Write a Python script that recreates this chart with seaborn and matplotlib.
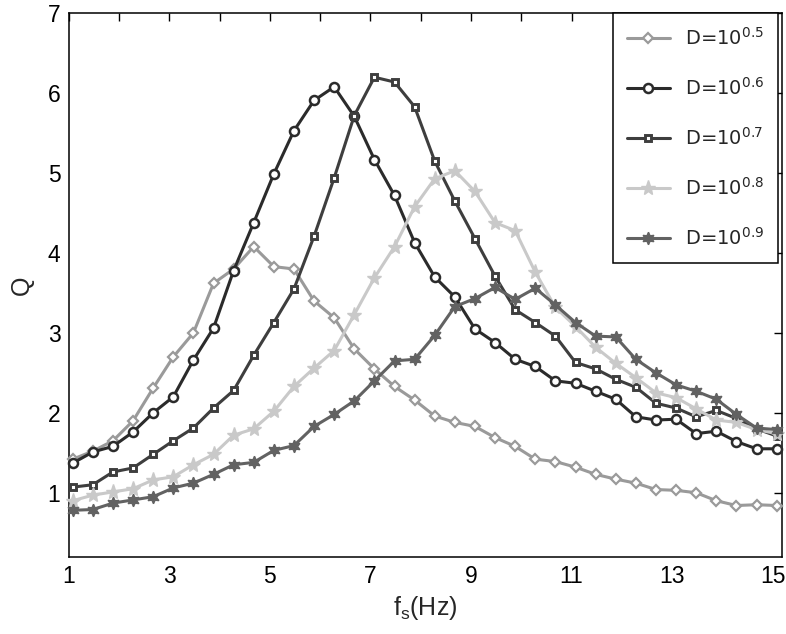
import matplotlib
matplotlib.use('Agg')
import matplotlib.pyplot as plt
import seaborn as sns

# frequency values (Hz)
fs = [1.08, 1.48, 1.88, 2.28, 2.68, 3.08, 3.48, 3.88, 4.28, 4.68, 5.08, 5.48,
      5.88, 6.28, 6.68, 7.08, 7.48, 7.88, 8.28, 8.68, 9.08, 9.48, 9.88, 10.28,
      10.68, 11.08, 11.48, 11.88, 12.28, 12.68, 13.08, 13.48, 13.88, 14.28, 14.68, 15.08]

q_05 = [1.42, 1.52, 1.65, 1.90, 2.31, 2.70, 3.00, 3.62, 3.80, 4.08, 3.83, 3.80,
        3.40, 3.19, 2.80, 2.55, 2.33, 2.16, 1.96, 1.88, 1.83, 1.69, 1.58, 1.42,
        1.39, 1.32, 1.23, 1.17, 1.12, 1.04, 1.03, 1.00, 0.90, 0.84, 0.85, 0.84]
q_06 = [1.37, 1.51, 1.58, 1.76, 2.00, 2.20, 2.66, 3.06, 3.78, 4.38, 4.99, 5.53,
        5.91, 6.08, 5.71, 5.17, 4.72, 4.13, 3.70, 3.45, 3.05, 2.88, 2.67, 2.58,
        2.40, 2.37, 2.27, 2.17, 1.95, 1.91, 1.92, 1.74, 1.77, 1.64, 1.55, 1.55]
q_07 = [1.07, 1.10, 1.26, 1.31, 1.48, 1.65, 1.81, 2.06, 2.28, 2.72, 3.13, 3.55,
        4.21, 4.94, 5.72, 6.20, 6.14, 5.83, 5.15, 4.65, 4.18, 3.71, 3.29, 3.13,
        2.96, 2.63, 2.55, 2.42, 2.32, 2.12, 2.06, 1.95, 2.03, 1.93, 1.80, 1.71]
q_08 = [0.90, 0.97, 1.01, 1.05, 1.16, 1.20, 1.35, 1.48, 1.72, 1.80, 2.02, 2.33,
        2.56, 2.78, 3.23, 3.69, 4.08, 4.58, 4.93, 5.03, 4.77, 4.38, 4.28, 3.76,
        3.32, 3.08, 2.82, 2.62, 2.44, 2.25, 2.19, 2.05, 1.91, 1.88, 1.79, 1.74]
q_09 = [0.78, 0.79, 0.87, 0.91, 0.95, 1.06, 1.12, 1.23, 1.35, 1.38, 1.53, 1.59,
        1.83, 1.98, 2.15, 2.40, 2.65, 2.67, 2.97, 3.33, 3.43, 3.57, 3.42, 3.56,
        3.35, 3.13, 2.96, 2.95, 2.67, 2.50, 2.35, 2.27, 2.17, 1.98, 1.81, 1.79]

labels = [r'D=10$^{0.5}$', r'D=10$^{0.6}$', r'D=10$^{0.7}$', r'D=10$^{0.8}$', r'D=10$^{0.9}$']

sns.set_style('white')
plt.rcParams['font.family'] = ['Liberation Sans', 'DejaVu Sans']
plt.rcParams['mathtext.default'] = 'regular'

fig = plt.figure(figsize=(7.86, 6.34), dpi=100)
ax = fig.add_axes([0.0874, 0.122, 0.9071, 0.857])

# стиль каждой кривой: цвет, маркер, размер, заливка
styles = [
    dict(color='#9a9a9a', marker='D', markersize=5.5, markerfacecolor='white', markeredgewidth=1.6),
    dict(color='#2b2b2b', marker='o', markersize=6.5, markerfacecolor='white', markeredgewidth=1.8),
    dict(color='#3e3e3e', marker='s', markersize=4.6, markerfacecolor='white', markeredgewidth=2.1),
    dict(color='#c9c9c9', marker='*', markersize=11, markerfacecolor='#c9c9c9', markeredgewidth=1),
    dict(color='#626262', marker=(6, 1, 0), markersize=9, markerfacecolor='#626262', markeredgewidth=1),
]
series = [q_05, q_06, q_07, q_08, q_09]

for vals, lab, st in zip(series, labels, styles):
    sns.lineplot(x=fs, y=vals, ax=ax, label=lab, linewidth=2.2,
                 markeredgecolor=st['color'], clip_on=False, zorder=3, **st)

ax.set_xlim(1, 15.18)
ax.set_ylim(0.2, 7)
ax.set_xticks(range(1, 16))
ax.set_xticklabels([str(v) if v % 2 == 1 else '' for v in range(1, 16)])
ax.set_yticks(range(1, 8))
ax.tick_params(direction='in', length=6, width=1, top=True, right=True,
               labelsize=16.5, colors='black', pad=6)
for sp in ax.spines.values():
    sp.set_linewidth(1.1)
    sp.set_color('black')

ax.set_xlabel(r'f$_{s}$(Hz)', fontsize=18, labelpad=4)
ax.set_ylabel('Q', fontsize=18, labelpad=10)

leg = ax.legend(loc='upper right', bbox_to_anchor=(0.995, 1.0), borderaxespad=0,
                prop={'family': 'DejaVu Sans', 'size': 14}, frameon=True, fancybox=False,
                handlelength=2.2, handletextpad=0.8, labelspacing=1.45, borderpad=0.7)
leg.get_frame().set_edgecolor('black')
leg.get_frame().set_linewidth(1.1)
leg.get_frame().set_alpha(1)

fig.savefig('out.png', dpi=100)
